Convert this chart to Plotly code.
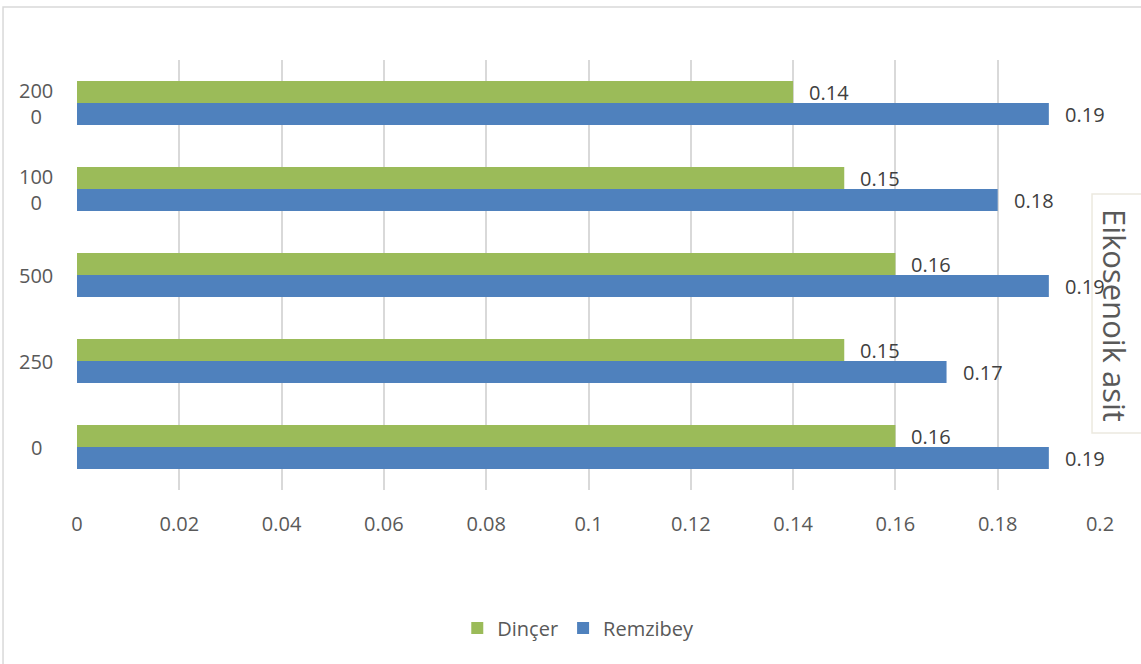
import plotly.graph_objects as go

categories = ["0", "250", "500", "1000", "2000"]
category_labels = ["0", "250", "500", "100<br>0", "200<br>0"]
dincer = [0.16, 0.15, 0.16, 0.15, 0.14]
remzibey = [0.19, 0.17, 0.19, 0.18, 0.19]
x_ticks = [0, 0.02, 0.04, 0.06, 0.08, 0.1, 0.12, 0.14, 0.16, 0.18, 0.2]
x_ticklabels = ["0", "0.02", "0.04", "0.06", "0.08", "0.1", "0.12", "0.14", "0.16", "0.18", "0.2"]
title_text = "Eikosenoik asit"

GREEN = "#9BBB59"
BLUE = "#4F81BD"
FONT = "Open Sans"

fig = go.Figure()
fig.add_trace(go.Bar(y=categories, x=remzibey, name="Remzibey", orientation="h",
                     marker=dict(color=BLUE, line=dict(width=0))))
fig.add_trace(go.Bar(y=categories, x=dincer, name="Dinçer", orientation="h",
                     marker=dict(color=GREEN, line=dict(width=0))))

annotations = []
for i, v in enumerate(dincer):
    annotations.append(dict(x=v, y=i, xref="x", yref="y", text=f"{v:.2f}", showarrow=False,
                            xanchor="left", yanchor="middle", xshift=14, yshift=11,
                            font=dict(family=FONT, size=20, color="#404040")))
for i, v in enumerate(remzibey):
    annotations.append(dict(x=v, y=i, xref="x", yref="y", text=f"{v:.2f}", showarrow=False,
                            xanchor="left", yanchor="middle", xshift=14, yshift=-11,
                            font=dict(family=FONT, size=20, color="#404040")))
for i, lab in enumerate(category_labels):
    annotations.append(dict(x=0, y=i, xref="paper", yref="y", text=lab, showarrow=False,
                            xanchor="center", yanchor="middle", xshift=-41, align="center",
                            font=dict(family=FONT, size=20, color="#595959")))
annotations.append(dict(x=1.0147, y=0.407, xref="paper", yref="paper", text=title_text,
                        showarrow=False, textangle=90, xanchor="center", yanchor="middle",
                        font=dict(family=FONT, size=31, color="#595959")))

shapes = [
    dict(type="rect", xref="paper", yref="paper", x0=-0.0723, x1=1.05, y0=-0.42, y1=1.1233,
         line=dict(color="#D9D9D9", width=1.5), fillcolor="rgba(0,0,0,0)", layer="below"),
    dict(type="rect", xref="paper", yref="paper", x0=0.9922, x1=1.06, y0=0.1326, y1=0.6884,
         line=dict(color="#ECE9DF", width=1.5), fillcolor="rgba(0,0,0,0)", layer="above"),
]

fig.update_layout(
    width=1141, height=664,
    margin=dict(l=77, r=41, t=60, b=174),
    paper_bgcolor="white", plot_bgcolor="white",
    barmode="group", bargap=0.49, bargroupgap=0,
    font=dict(family=FONT, size=20, color="#595959"),
    xaxis=dict(range=[0, 0.2], tickvals=x_ticks, ticktext=x_ticklabels,
               showgrid=True, gridcolor="#D9D9D9", gridwidth=1.5, zeroline=False,
               showline=False, ticks="", ticklabelstandoff=20,
               tickfont=dict(family=FONT, size=20, color="#595959")),
    yaxis=dict(type="category", categoryorder="array", categoryarray=categories,
               showticklabels=False, showgrid=False, zeroline=False, showline=False,
               range=[-0.5, 4.5]),
    legend=dict(orientation="h", x=0.49, xanchor="center", y=-0.321, yanchor="middle",
                traceorder="reversed", itemwidth=30,
                font=dict(family=FONT, size=20, color="#595959")),
    annotations=annotations,
    shapes=shapes,
    showlegend=True,
)

fig.write_html("out.html", config={"displayModeBar": False},
               post_script="document.body.style.margin='0';document.body.style.overflow='hidden';")
